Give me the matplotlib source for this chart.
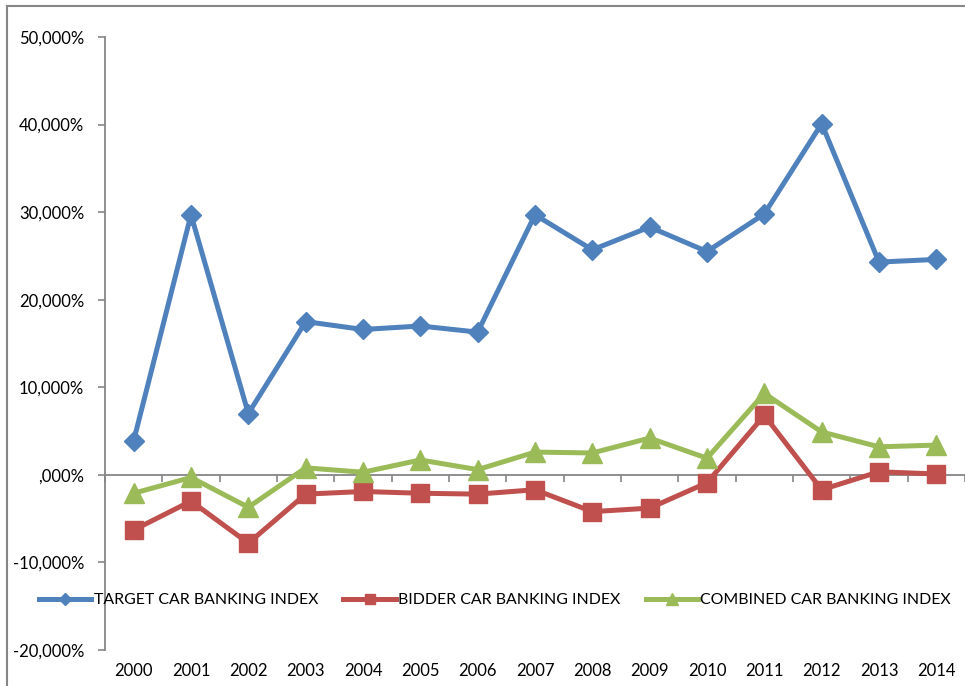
import numpy as np
import matplotlib.pyplot as plt
from matplotlib.lines import Line2D

# Índices anuales (valores en %)
anios = ['2000', '2001', '2002', '2003', '2004', '2005', '2006', '2007',
         '2008', '2009', '2010', '2011', '2012', '2013', '2014']
target = [3.9, 29.7, 7.0, 17.5, 16.6, 17.0, 16.3, 29.7, 25.7, 28.3, 25.5, 29.8, 40.1, 24.3, 24.6]
bidder = [-6.3, -3.0, -7.8, -2.2, -1.9, -2.1, -2.2, -1.7, -4.2, -3.8, -0.9, 6.8, -1.7, 0.35, 0.1]
combined = [-2.1, -0.3, -3.7, 0.8, 0.3, 1.7, 0.6, 2.6, 2.5, 4.2, 1.9, 9.3, 4.9, 3.2, 3.4]

yticks = [-20, -10, 0, 10, 20, 30, 40, 50]
ylabels = ['-20,000%', '-10,000%', ',000%', '10,000%', '20,000%', '30,000%', '40,000%', '50,000%']

plt.rcParams['font.family'] = ['Lato', 'DejaVu Sans']
gris = '#868686'
fs = 12

fig = plt.figure(figsize=(9.65, 6.86), dpi=100)
ax = fig.add_axes([105/965, 1 - 650/686, 1 - 105/965, (650 - 37)/686])

x = np.arange(len(anios))
ax.plot(x, target, color='#4F81BD', lw=3.6, marker='D', ms=10, label='TARGET CAR BANKING INDEX')
ax.plot(x, bidder, color='#C0504D', lw=3.6, marker='s', ms=13, label='BIDDER CAR BANKING INDEX')
ax.plot(x, combined, color='#9BBB59', lw=3.6, marker='^', ms=14, label='COMBINED CAR BANKING INDEX')

ax.set_xlim(-0.5, len(anios) - 0.5)
ax.set_ylim(-20, 50)
ax.set_yticks(yticks)
ax.set_yticklabels(ylabels, fontsize=fs)
ax.set_xticks(x)
ax.set_xticklabels(anios, fontsize=fs)
ax.tick_params(axis='x', length=0, pad=9)
ax.tick_params(axis='y', length=5, color=gris, width=1.2, pad=10)

for lado in ['top', 'right', 'bottom']:
    ax.spines[lado].set_visible(False)
ax.spines['left'].set_color(gris)
ax.spines['left'].set_linewidth(1.3)

# eje horizontal en cero con marcas entre categorías
eje0 = ax.secondary_xaxis(2/7)
eje0.spines['bottom'].set_color(gris)
eje0.spines['bottom'].set_linewidth(1.3)
eje0.set_xticks(np.arange(-0.5, len(anios), 1))
eje0.set_xticklabels([])
eje0.tick_params(axis='x', direction='out', length=5, color=gris, width=1.2)
ax.set_zorder(1)

fig.legend(loc='center', bbox_to_anchor=(0.513, 0.125), ncol=3, frameon=False,
           fontsize=11.4, handlelength=3.3, handletextpad=0.15, columnspacing=1.6,
           markerscale=0.6)

# marco exterior
fig.add_artist(Line2D([7/965, 7/965], [0, 1 - 6/686], color=gris, lw=1.5))
fig.add_artist(Line2D([7/965, 1], [1 - 6/686, 1 - 6/686], color=gris, lw=1.5))

fig.savefig('out.png', dpi=100)
